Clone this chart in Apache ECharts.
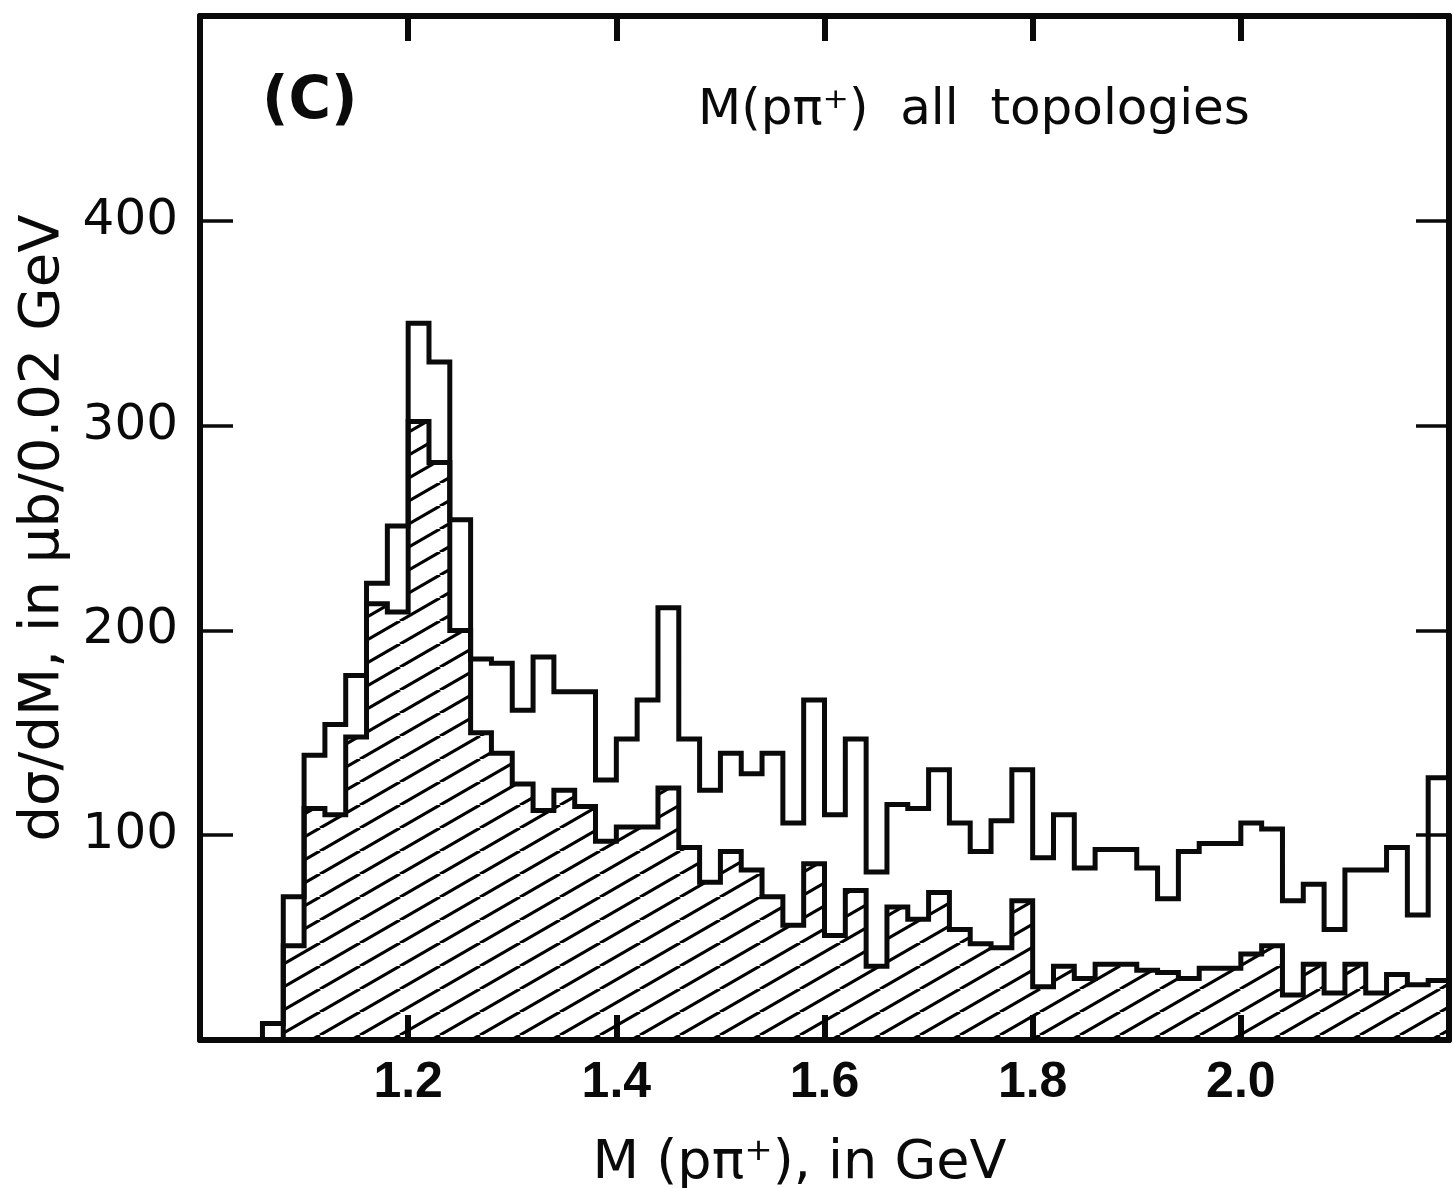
<!DOCTYPE html>
<html>
<head>
<meta charset="utf-8">
<script src="https://cdn.jsdelivr.net/npm/echarts@6/dist/echarts.min.js"></script>
<style>
  html, body { margin: 0; padding: 0; background: #fff; }
  #chart { width: 1453px; height: 1188px; }
</style>
</head>
<body>
<div id="chart"></div>
<script>
// Lower edge of each 0.02 GeV mass bin, in GeV
const binLow = [
  1.06, 1.08, 1.10, 1.12, 1.14, 1.16, 1.18, 1.20, 1.22, 1.24,
  1.26, 1.28, 1.30, 1.32, 1.34, 1.36, 1.38, 1.40, 1.42, 1.44,
  1.46, 1.48, 1.50, 1.52, 1.54, 1.56, 1.58, 1.60, 1.62, 1.64,
  1.66, 1.68, 1.70, 1.72, 1.74, 1.76, 1.78, 1.80, 1.82, 1.84,
  1.86, 1.88, 1.90, 1.92, 1.94, 1.96, 1.98, 2.00, 2.02, 2.04,
  2.06, 2.08, 2.10, 2.12, 2.14, 2.16, 2.18
];
const binWidth = 0.02;

// dσ/dM for all topologies (open histogram), µb / 0.02 GeV
const totalAll = [
    8,  70, 139, 154, 178, 223, 251, 350, 331, 254,
  186, 184, 161, 187, 170, 170, 127, 147, 166, 211,
  147, 122, 140, 130, 140, 106, 166, 110, 147,  82,
  115, 113, 132, 106,  92, 107, 132,  89, 110,  84,
   93,  93,  84,  69,  92,  96,  96, 106, 103,  68,
   76,  54,  83,  83,  94,  61, 128
];

// Hatched sub-sample, µb / 0.02 GeV
const hatchedPart = [
    0,  46, 113, 110, 148, 213, 209, 302, 282, 200,
  150, 140, 125, 112, 122, 114,  97, 104, 104, 123,
   94,  77,  92,  83,  70,  56,  86,  51,  73,  36,
   65,  59,  72,  54,  47,  45,  68,  26,  36,  30,
   37,  37,  34,  33,  30,  35,  35,  42,  46,  22,
   37,  23,  37,  23,  32,  27,  29
];

const xTickLabels = ['1.2', '1.4', '1.6', '1.8', '2.0'];
const yTickLabels = ['100', '200', '300', '400'];

// Turn per-bin values into the corner points of a histogram outline
function histogramPoints(values) {
  const pts = [[binLow[0], 0]];
  for (let i = 0; i < values.length; i++) pts.push([binLow[i], values[i]]);
  const last = values.length - 1;
  const upper = +(binLow[last] + binWidth).toFixed(2);
  pts.push([upper, values[last]]);
  pts.push([upper, 0]);
  return pts;
}

// Diagonal hatching tile for the shaded histogram
function hatchTile() {
  const w = 40, h = 23;
  const c = document.createElement('canvas');
  c.width = w; c.height = h;
  const g = c.getContext('2d');
  g.strokeStyle = '#000';
  g.lineWidth = 3.2;
  for (const dx of [-w, 0, w]) {
    g.beginPath();
    g.moveTo(dx, h);
    g.lineTo(dx + w, 0);
    g.stroke();
  }
  return c;
}

const ink = '#0a0a0a';
const frameWidth = 6;

const chart = echarts.init(document.getElementById('chart'), null, { renderer: 'canvas' });

const xBase = {
  type: 'value', min: 1.0, max: 2.2, interval: 0.2,
  splitLine: { show: false },
  axisLine: { show: true, onZero: false, lineStyle: { color: ink, width: frameWidth } },
  axisTick: { show: true, inside: true, length: 25, lineStyle: { color: ink, width: 6 } }
};
const yBase = {
  type: 'value', min: 0, max: 500, interval: 100,
  splitLine: { show: false },
  axisLine: { show: true, onZero: false, lineStyle: { color: ink, width: frameWidth } },
  axisTick: { show: true, inside: true, length: 33, lineStyle: { color: ink, width: 3.5 } }
};

chart.setOption({
  animation: false,
  backgroundColor: '#fff',
  grid: { left: 200, right: 4, top: 16, bottom: 148, containLabel: false, outerBoundsMode: 'none' },
  title: [
    {
      text: '(C)', left: 262, top: 74, padding: 0,
      textStyle: { fontFamily: 'DejaVu Sans', fontSize: 58, fontWeight: 'bold', color: ink }
    },
    {
      text: 'M(pπ⁺)  all  topologies', left: 698, top: 86, padding: 0,
      textStyle: { fontFamily: 'DejaVu Sans', fontSize: 50, fontWeight: 'normal', color: ink }
    }
  ],
  xAxis: [
    Object.assign({}, xBase, {
      position: 'bottom',
      axisLabel: {
        margin: 18, color: ink, fontSize: 50, fontWeight: 'bold',
        fontFamily: "'Liberation Sans', Arial, sans-serif",
        formatter: v => { const s = v.toFixed(1); return xTickLabels.includes(s) ? s : ''; }
      },
      name: 'M (pπ⁺), in GeV',
      nameLocation: 'middle', nameGap: 97,
      nameTextStyle: { fontFamily: 'DejaVu Sans', fontSize: 54, color: ink, padding: [0, 50, 0, 0] }
    }),
    Object.assign({}, xBase, { position: 'top', axisLabel: { show: false } })
  ],
  yAxis: [
    Object.assign({}, yBase, {
      position: 'left',
      axisLabel: {
        margin: 22, color: ink, fontSize: 50, fontFamily: 'DejaVu Sans',
        formatter: v => { const s = String(v); return yTickLabels.includes(s) ? s : ''; }
      },
      name: 'dσ/dM, in μb/0.02 GeV',
      nameLocation: 'middle', nameGap: 128, nameRotate: 90,
      nameTextStyle: { fontFamily: 'DejaVu Sans', fontSize: 56, color: ink }
    }),
    Object.assign({}, yBase, { position: 'right', axisLabel: { show: false } })
  ],
  series: [
    {
      name: 'hatched',
      type: 'line', step: 'end', xAxisIndex: 0, yAxisIndex: 0,
      data: histogramPoints(hatchedPart),
      showSymbol: false, silent: true, z: 2,
      lineStyle: { color: ink, width: 5, join: 'miter' },
      areaStyle: { origin: 'start', opacity: 1, color: { image: hatchTile(), repeat: 'repeat' } }
    },
    {
      name: 'all topologies',
      type: 'line', step: 'end', xAxisIndex: 0, yAxisIndex: 0,
      data: histogramPoints(totalAll),
      showSymbol: false, silent: true, z: 3,
      lineStyle: { color: ink, width: 5, join: 'miter' }
    }
  ]
});
</script>
</body>
</html>
